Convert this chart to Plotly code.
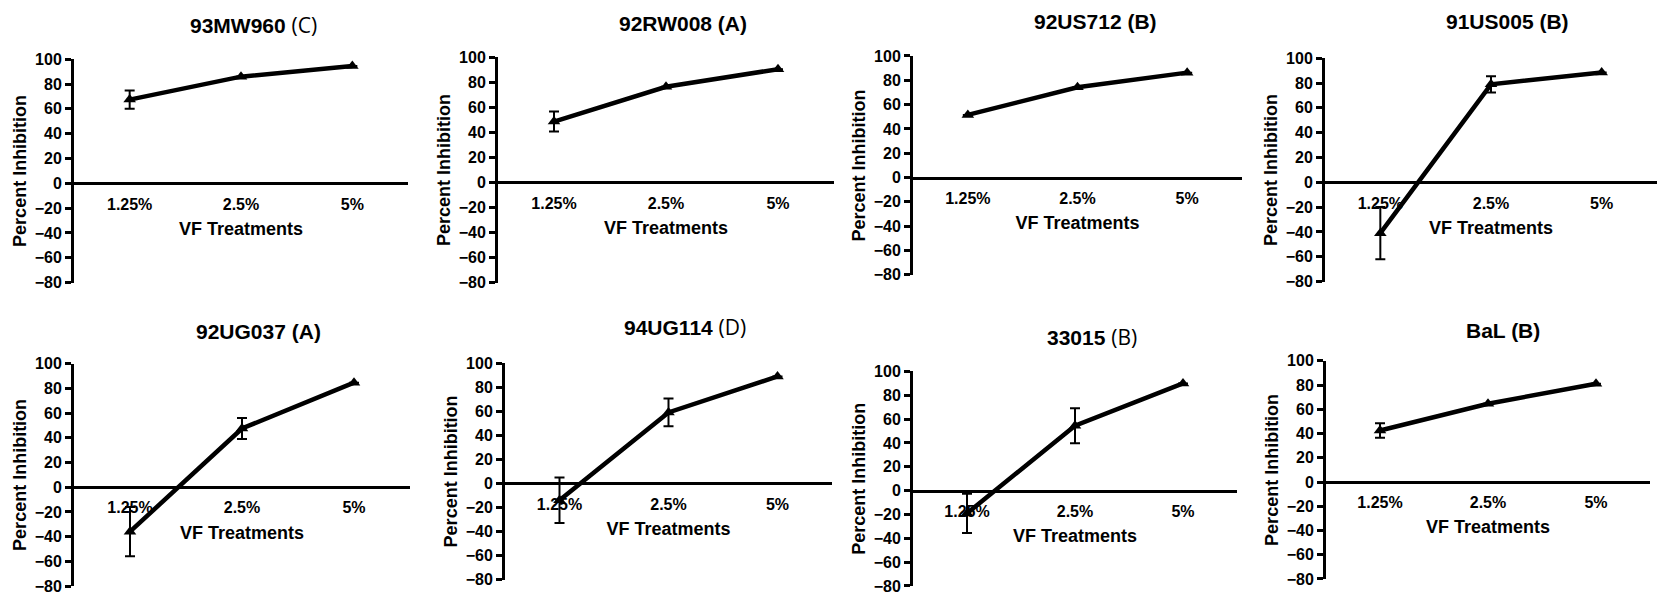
import plotly.graph_objects as go

W, H = 1658, 595

categories = ["1.25%", "2.5%", "5%"]
isolates = ["93MW960", "92RW008", "92US712", "91US005",
            "92UG037", "94UG114", "33015", "BaL"]
clades = ["(C)", "(A)", "(B)", "(B)", "(A)", "(D)", "(B)", "(B)"]
alt_font = [True, False, False, False, False, True, True, False]

inhibition = [
    [67.5, 86.0, 94.6],
    [48.6, 76.4, 90.5],
    [51.5, 74.3, 86.3],
    [-41.0, 79.0, 88.6],
    [-36.0, 47.6, 84.7],
    [-14.0, 59.0, 88.9],
    [-19.0, 54.5, 90.0],
    [42.5, 64.6, 81.0],
]
sem = [
    [7.3, 0, 0],
    [8.0, 0, 0],
    [0, 0, 0],
    [21.0, 6.5, 0],
    [20.0, 8.5, 0],
    [19.0, 11.5, 0],
    [16.5, 14.7, 0],
    [6.0, 0, 0],
]
y_ticks = [-80, -60, -40, -20, 0, 20, 40, 60, 80, 100]

# panel pixel geometry in the target picture: (x_left, x_right, y_top(100), y_bottom(-80))
panels = [
    (74, 408, 59.3, 282.7),
    (498, 834, 57.3, 282.7),
    (913, 1242, 56.0, 275.0),
    (1325, 1657, 58.3, 281.7),
    (74, 410, 364.0, 587.3),
    (505, 832, 363.3, 580.0),
    (913, 1237, 371.7, 588.3),
    (1326, 1650, 361.0, 579.3),
]
title_pos = [(254, 25), (683, 24), (1095, 22), (1507, 22),
             (258, 332), (685, 327), (1092, 337), (1503, 331)]


def vfix(y):
    # compensate the vertical offset/scale observed in the rendered picture
    return (y - 8.0) / 0.972


def clamp(v):
    return max(0.0, min(1.0, v))


FONT = "Liberation Sans, Arial, sans-serif"
fig = go.Figure()
layout = dict(
    width=W, height=H, margin=dict(l=0, r=0, t=0, b=0),
    paper_bgcolor="white", plot_bgcolor="white", showlegend=False,
    font=dict(family=FONT, color="black"),
)
annotations = []
for i in range(8):
    n = i + 1
    xs = "" if n == 1 else str(n)
    x0, x1, yt, yb = panels[i]
    yt, yb = vfix(yt), vfix(yb)
    ydom = [clamp(1 - yb / H), clamp(1 - yt / H)]
    top_f, bot_f = ydom[1], ydom[0]
    zero_f = bot_f + (80 / 180) * (top_f - bot_f)
    fig.add_trace(go.Scatter(
        x=categories, y=inhibition[i], mode="lines+markers",
        line=dict(color="black", width=4.5),
        marker=dict(symbol="triangle-up", size=11, color="black"),
        error_y=dict(type="data", array=sem[i], visible=True,
                     color="black", thickness=2, width=5),
        xaxis="x" + xs, yaxis="y" + xs, cliponaxis=False,
    ))
    layout["xaxis" + xs] = dict(
        domain=[x0 / W, x1 / W], anchor="free", position=zero_f,
        type="category", categoryorder="array", categoryarray=categories,
        range=[-0.5, 2.5], showline=True, linewidth=3, linecolor="black",
        ticks="outside", ticklen=5, tickcolor="rgba(0,0,0,0)",
        tickfont=dict(size=16, family=FONT, weight="bold"),
        showgrid=False, zeroline=False,
        title=dict(text="<b>VF Treatments</b>", font=dict(size=18, family=FONT),
                   standoff=10),
    )
    layout["yaxis" + xs] = dict(
        domain=ydom, anchor="x" + xs, range=[-80, 100],
        tickvals=y_ticks, showline=True, linewidth=3, linecolor="black",
        ticks="outside", ticklen=6, tickwidth=3, tickcolor="black",
        tickfont=dict(size=16, family=FONT, weight="bold"),
        showgrid=False, zeroline=False,
        title=dict(text="<b>Percent Inhibition</b>", font=dict(size=18, family=FONT),
                   standoff=4),
    )
    if alt_font[i]:
        ttl = "<b>%s </b><span style='font-family:Open Sans'>%s</span>" % (isolates[i], clades[i])
    else:
        ttl = "<b>%s %s</b>" % (isolates[i], clades[i])
    tx, ty = title_pos[i]
    annotations.append(dict(
        text=ttl, x=tx / W, y=1 - vfix(ty) / H, xref="paper", yref="paper",
        xanchor="center", yanchor="middle", showarrow=False,
        font=dict(size=21, family=FONT, color="black"),
    ))
layout["annotations"] = annotations
fig.update_layout(**layout)

post = (
    "var gd=document.getElementById('{plot_id}');"
    "gd.style.position='fixed';gd.style.left='0px';gd.style.top='0px';"
    "document.documentElement.style.margin='0';document.body.style.margin='0';"
    "document.documentElement.style.overflow='hidden';document.body.style.overflow='hidden';"
)
fig.write_html("out.html", config={"displayModeBar": False}, post_script=post)
